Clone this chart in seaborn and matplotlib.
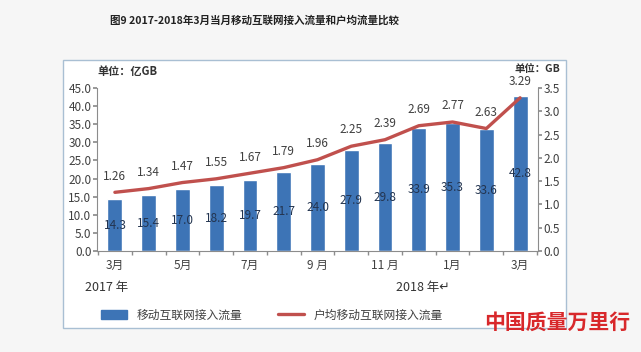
import pandas as pd
import matplotlib
matplotlib.use("Agg")
import matplotlib.pyplot as plt
import matplotlib.patches as mpatches
import matplotlib.lines as mlines
import seaborn as sns

sns.set_theme(style="white")
plt.rcParams["font.family"] = ["Noto Sans CJK SC", "DejaVu Sans"]

months = ["2017-03", "2017-04", "2017-05", "2017-06", "2017-07", "2017-08", "2017-09",
          "2017-10", "2017-11", "2017-12", "2018-01", "2018-02", "2018-03"]
month_labels = ["3月", "", "5月", "", "7月", "", "9 月", "", "11 月", "", "1月", "", "3月"]
traffic = [14.3, 15.4, 17.0, 18.2, 19.7, 21.7, 24.0, 27.9, 29.8, 33.9, 35.3, 33.6, 42.8]
per_user = [1.26, 1.34, 1.47, 1.55, 1.67, 1.79, 1.96, 2.25, 2.39, 2.69, 2.77, 2.63, 3.29]

df = pd.DataFrame({"month": months, "traffic": traffic, "per_user": per_user})

blue = "#3d74b6"
red = "#c0504d"
grey = "#8c8c8c"
txt = "#404040"

fig = plt.figure(figsize=(6.41, 3.52), dpi=100, facecolor="#f6f6f6")
# white inner panel
fig.patches.append(mpatches.Rectangle((63 / 641, 1 - 328 / 352), (566 - 63) / 641, (328 - 60) / 352,
                                      transform=fig.transFigure, facecolor="white",
                                      edgecolor="#a9bfd3", linewidth=1.0, zorder=-10))

ax = fig.add_axes([97 / 641, 1 - 251 / 352, (538 - 97) / 641, (251 - 88) / 352])
ax.patch.set_alpha(0)
sns.barplot(data=df, x="month", y="traffic", color=blue, width=0.44, ax=ax, saturation=1)
ax.set_ylim(0, 45)
ax.set_xlim(-0.53, 12.53)
ax.set_yticks([i * 5 for i in range(10)])
ax.set_yticklabels([f"{i * 5:.1f}" for i in range(10)], fontsize=8.5, color=txt)
ax.set_xticks(range(len(months)))
ax.set_xticklabels(month_labels, fontsize=8.5, color=txt)
ax.tick_params(axis="x", length=0, pad=6)
ax.tick_params(axis="y", length=3, color=grey, direction="out", left=True, pad=1)
ax.set_xticks([i + 0.5 for i in range(-1, 13)], minor=True)
ax.tick_params(axis="x", which="minor", length=3, color=grey, bottom=True, direction="out")
ax.set_xlabel("")
ax.set_ylabel("")
for s in ["top", "right"]:
    ax.spines[s].set_visible(False)
for s in ["left", "bottom"]:
    ax.spines[s].set_color(grey)
    ax.spines[s].set_linewidth(0.8)

for i, v in enumerate(traffic):
    ax.text(i, v / 2, f"{v:.1f}", ha="center", va="center", fontsize=8.5, color="#23344f")

ax2 = ax.twinx()
ax2.patch.set_alpha(0)
sns.lineplot(data=df, x="month", y="per_user", color=red, linewidth=2.4, ax=ax2, sort=False)
ax2.set_ylim(0, 3.5)
ax2.set_yticks([i * 0.5 for i in range(8)])
ax2.set_yticklabels([f"{i * 0.5:.1f}" for i in range(8)], fontsize=8.5, color=txt)
ax2.tick_params(axis="y", length=3, color=grey, direction="out", right=True, pad=1)
ax2.set_ylabel("")
for s in ["top", "left", "bottom"]:
    ax2.spines[s].set_visible(False)
ax2.spines["right"].set_color(grey)
ax2.spines["right"].set_linewidth(0.8)
for i, v in enumerate(per_user):
    ax2.annotate(f"{v:.2f}", (i, v), xytext=(0, 7), textcoords="offset points",
                 ha="center", va="bottom", fontsize=8.5, color=txt)

fig.text(254 / 641, 1 - 20 / 352, "图9 2017-2018年3月当月移动互联网接入流量和户均流量比较",
         ha="center", va="center", fontsize=7.6, fontweight="bold", color="#222222")
fig.text(97 / 641, 1 - 72 / 352, "单位：亿GB", ha="left", va="center", fontsize=8,
         fontweight="bold", color="#333333")
fig.text(560 / 641, 1 - 69 / 352, "单位：GB", ha="right", va="center", fontsize=7.5,
         fontweight="bold", color="#333333")
fig.text(107 / 641, 1 - 287 / 352, "2017 年", ha="center", va="center", fontsize=9, color="#333333")
fig.text(423 / 641, 1 - 287 / 352, "2018 年↵", ha="center", va="center", fontsize=9, color="#333333")

handles = [mpatches.Patch(color=blue, label="移动互联网接入流量"),
           mlines.Line2D([], [], color=red, linewidth=2.4, label="户均移动互联网接入流量")]
fig.legend(handles=handles, loc="center", bbox_to_anchor=(272 / 641, 1 - 315 / 352), ncol=2,
           frameon=False, fontsize=8.5, handlelength=2.2, columnspacing=3.0,
           labelcolor="#404040")

fig.text(630 / 641, 1 - 322 / 352, "中国质量万里行", ha="right", va="center", fontsize=15,
         color="#d8282b", fontweight="bold", style="italic")

fig.savefig("out.png", dpi=100, facecolor=fig.get_facecolor())
